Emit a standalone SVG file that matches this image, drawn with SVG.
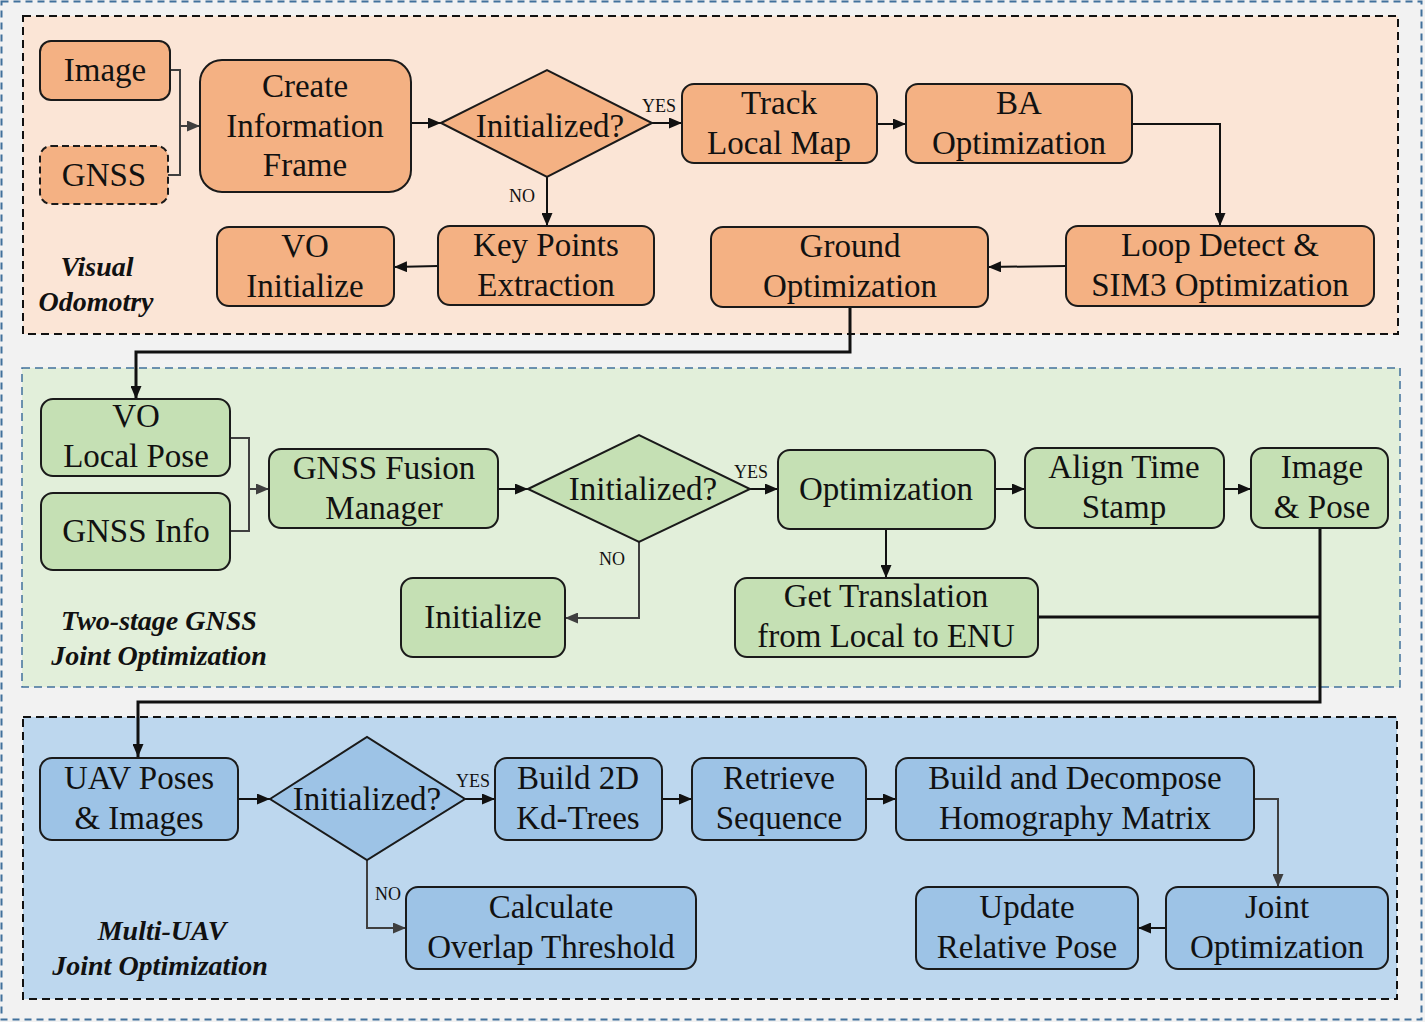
<svg xmlns="http://www.w3.org/2000/svg" width="1425" height="1022" viewBox="0 0 1425 1022">
<defs>
<marker id="ak" markerUnits="userSpaceOnUse" markerWidth="13" markerHeight="11" refX="13" refY="5.5" orient="auto"><path d="M0,0 L13,5.5 L0,11 z" fill="#111"/></marker>
<marker id="ag" markerUnits="userSpaceOnUse" markerWidth="13" markerHeight="11" refX="13" refY="5.5" orient="auto"><path d="M0,0 L13,5.5 L0,11 z" fill="#3f3f3f"/></marker>
<style>
.t{font-family:"Liberation Serif","Times New Roman",serif;font-size:33px;fill:#111;text-anchor:middle}
.s{font-family:"Liberation Serif","Times New Roman",serif;font-size:18px;fill:#111;text-anchor:middle}
.l{font-family:"Liberation Serif","Times New Roman",serif;font-size:28px;font-weight:bold;font-style:italic;fill:#111;text-anchor:middle}
.o{fill:#f4b183;stroke:#1a1a1a;stroke-width:2}
.g{fill:#c5e0b4;stroke:#1a1a1a;stroke-width:2}
.b{fill:#9dc3e6;stroke:#1a1a1a;stroke-width:2}
.ck{fill:none;stroke:#111;stroke-width:2}
.cg{fill:none;stroke:#3f3f3f;stroke-width:2}
.cw{fill:none;stroke:#111;stroke-width:3}
</style>
</defs>
<rect x="0" y="0" width="1425" height="1022" fill="#f2f2f2"/>
<rect x="1.5" y="1.5" width="1420" height="1018" fill="none" stroke="#41719c" stroke-width="2" stroke-dasharray="7,5"/>
<g id="sections">
<rect x="23" y="16" width="1375" height="318" fill="#fbe5d6" stroke="#111" stroke-width="2" stroke-dasharray="8,5"/>
<rect x="22" y="368" width="1378" height="319" fill="#e2efda" stroke="#41719c" stroke-width="1.5" stroke-dasharray="8,5"/>
<rect x="23" y="717" width="1374" height="282" fill="#bdd7ee" stroke="#111" stroke-width="2" stroke-dasharray="8,5"/>
<text class="l" x="97" y="276">Visual</text>
<text class="l" x="96" y="311">Odomotry</text>
<text class="l" x="159" y="630">Two-stage GNSS</text>
<text class="l" x="159" y="665">Joint Optimization</text>
<text class="l" x="162" y="940">Multi-UAV</text>
<text class="l" x="160" y="975">Joint Optimization</text>
</g>
<g id="connectors">
<path class="cg" d="M170,70 H180 V126"/>
<path class="cg" d="M168,175 H180 V126 H200" marker-end="url(#ag)"/>
<path class="ck" d="M411,123 H441" marker-end="url(#ak)"/>
<path class="ck" d="M652,123 H682" marker-end="url(#ak)"/>
<text class="s" x="659" y="112">YES</text>
<path class="ck" d="M877,124 H906" marker-end="url(#ak)"/>
<path class="ck" d="M1132,124 H1220 V226" marker-end="url(#ak)"/>
<path class="ck" d="M1066,266 L988,267" marker-end="url(#ak)"/>
<path class="ck" d="M547,177 V226" marker-end="url(#ak)"/>
<text class="s" x="522" y="202">NO</text>
<path class="ck" d="M438,266 L394,267" marker-end="url(#ak)"/>
<path class="cw" d="M850,307 V352 H136 V399" marker-end="url(#ak)"/>
<path class="cg" d="M230,438 H249 V489"/>
<path class="cg" d="M230,531 H249 V489 H269" marker-end="url(#ag)"/>
<path class="ck" d="M498,489 H528" marker-end="url(#ak)"/>
<path class="ck" d="M750,489 H778" marker-end="url(#ak)"/>
<text class="s" x="751" y="478">YES</text>
<path class="ck" d="M995,489 H1025" marker-end="url(#ak)"/>
<path class="ck" d="M1224,489 H1251" marker-end="url(#ak)"/>
<path class="ck" d="M886,529 V578" marker-end="url(#ak)"/>
<path class="cg" d="M639,542 V618 H565" marker-end="url(#ag)"/>
<text class="s" x="612" y="565">NO</text>
<path class="cw" d="M1038,617 H1320"/>
<path class="cw" d="M1320,528 V702 H138 V757" marker-end="url(#ak)"/>
<path class="ck" d="M238,799 H270" marker-end="url(#ak)"/>
<path class="ck" d="M465,799 H495" marker-end="url(#ak)"/>
<text class="s" x="473" y="787">YES</text>
<path class="ck" d="M662,799 H692" marker-end="url(#ak)"/>
<path class="ck" d="M866,799 H896" marker-end="url(#ak)"/>
<path class="cg" d="M1254,799 H1278 V887" marker-end="url(#ag)"/>
<path class="ck" d="M1166,928 H1138" marker-end="url(#ak)"/>
<path class="cg" d="M367,860 V928 H406" marker-end="url(#ag)"/>
<text class="s" x="388" y="900">NO</text>
</g>
<g id="image"><rect class="o" x="40" y="41" width="130" height="59" rx="11"/><text class="t" x="105" y="81">Image</text></g>
<g id="gnss"><rect class="o" x="40" y="146" width="128" height="58" rx="11" stroke-dasharray="7,4"/><text class="t" x="104" y="186">GNSS</text></g>
<g id="create-frame"><rect class="o" x="200" y="60" width="211" height="132" rx="22"/><text class="t" x="305" y="97">Create</text><text class="t" x="305" y="137">Information</text><text class="t" x="305" y="176">Frame</text></g>
<g id="init1"><path class="o" d="M441,123 L547,70 L652,123 L547,177 Z"/><text class="t" x="550" y="137">Initialized?</text></g>
<g id="track"><rect class="o" x="682" y="84" width="195" height="79" rx="12"/><text class="t" x="779" y="114">Track</text><text class="t" x="779" y="154">Local Map</text></g>
<g id="ba"><rect class="o" x="906" y="84" width="226" height="79" rx="12"/><text class="t" x="1019" y="114">BA</text><text class="t" x="1019" y="154">Optimization</text></g>
<g id="loop"><rect class="o" x="1066" y="226" width="308" height="80" rx="12"/><text class="t" x="1220" y="256">Loop Detect &amp;</text><text class="t" x="1220" y="296">SIM3 Optimization</text></g>
<g id="ground"><rect class="o" x="711" y="227" width="277" height="80" rx="12"/><text class="t" x="850" y="257">Ground</text><text class="t" x="850" y="297">Optimization</text></g>
<g id="keypoints"><rect class="o" x="438" y="226" width="216" height="79" rx="12"/><text class="t" x="546" y="256">Key Points</text><text class="t" x="546" y="296">Extraction</text></g>
<g id="vo-init"><rect class="o" x="217" y="227" width="177" height="79" rx="12"/><text class="t" x="305" y="257">VO</text><text class="t" x="305" y="297">Initialize</text></g>
<g id="vo-pose"><rect class="g" x="41" y="399" width="189" height="77" rx="12"/><text class="t" x="136" y="427">VO</text><text class="t" x="136" y="467">Local Pose</text></g>
<g id="gnss-info"><rect class="g" x="41" y="493" width="189" height="77" rx="12"/><text class="t" x="136" y="542">GNSS Info</text></g>
<g id="fusion"><rect class="g" x="269" y="449" width="229" height="79" rx="12"/><text class="t" x="384" y="479">GNSS Fusion</text><text class="t" x="384" y="519">Manager</text></g>
<g id="init2"><path class="g" d="M528,489 L639,435 L750,489 L639,542 Z"/><text class="t" x="643" y="500">Initialized?</text></g>
<g id="optimization"><rect class="g" x="778" y="450" width="217" height="79" rx="12"/><text class="t" x="886" y="500">Optimization</text></g>
<g id="align"><rect class="g" x="1025" y="448" width="199" height="80" rx="12"/><text class="t" x="1124" y="478">Align Time</text><text class="t" x="1124" y="518">Stamp</text></g>
<g id="image-pose"><rect class="g" x="1251" y="448" width="137" height="80" rx="12"/><text class="t" x="1322" y="478">Image</text><text class="t" x="1322" y="518">&amp; Pose</text></g>
<g id="translation"><rect class="g" x="735" y="578" width="303" height="79" rx="12"/><text class="t" x="886" y="607">Get Translation</text><text class="t" x="886" y="647">from Local to ENU</text></g>
<g id="initialize"><rect class="g" x="401" y="578" width="164" height="79" rx="12"/><text class="t" x="483" y="628">Initialize</text></g>
<g id="uav"><rect class="b" x="40" y="758" width="198" height="82" rx="12"/><text class="t" x="139" y="789">UAV Poses</text><text class="t" x="139" y="829">&amp; Images</text></g>
<g id="init3"><path class="b" d="M270,799 L367,737 L465,799 L367,860 Z"/><text class="t" x="367" y="810">Initialized?</text></g>
<g id="kdtree"><rect class="b" x="495" y="758" width="167" height="82" rx="12"/><text class="t" x="578" y="789">Build 2D</text><text class="t" x="578" y="829">Kd-Trees</text></g>
<g id="retrieve"><rect class="b" x="692" y="758" width="174" height="82" rx="12"/><text class="t" x="779" y="789">Retrieve</text><text class="t" x="779" y="829">Sequence</text></g>
<g id="homography"><rect class="b" x="896" y="758" width="358" height="82" rx="12"/><text class="t" x="1075" y="789">Build and Decompose</text><text class="t" x="1075" y="829">Homography Matrix</text></g>
<g id="joint"><rect class="b" x="1166" y="887" width="222" height="82" rx="12"/><text class="t" x="1277" y="918">Joint</text><text class="t" x="1277" y="958">Optimization</text></g>
<g id="update"><rect class="b" x="916" y="887" width="222" height="82" rx="12"/><text class="t" x="1027" y="918">Update</text><text class="t" x="1027" y="958">Relative Pose</text></g>
<g id="overlap"><rect class="b" x="406" y="887" width="290" height="82" rx="12"/><text class="t" x="551" y="918">Calculate</text><text class="t" x="551" y="958">Overlap Threshold</text></g>
</svg>
